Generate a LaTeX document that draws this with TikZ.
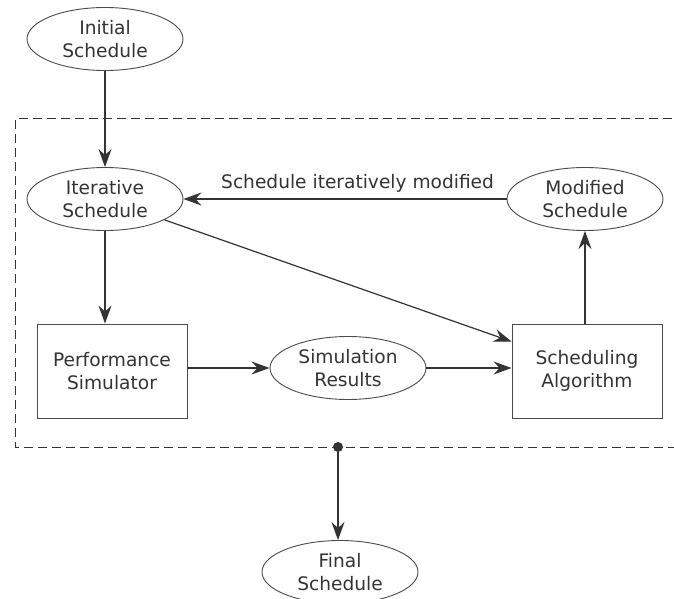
\documentclass[tikz,border=0pt]{standalone}
\usepackage{fontspec}
\setmainfont{DejaVu Sans}
\usetikzlibrary{shapes.geometric,arrows.meta}
\definecolor{ink}{HTML}{333333}
\definecolor{edge}{HTML}{4A4A4A}
\begin{document}
\begin{tikzpicture}[x=1pt,y=-1pt,
  every node/.style={font=\fontsize{18.6}{22.7}\selectfont, text=ink, align=center},
  oval/.style={ellipse, draw=edge, line width=0.9pt, minimum width=156pt, minimum height=63pt, inner sep=0pt},
  block/.style={rectangle, draw=edge, line width=0.9pt, minimum width=150pt, minimum height=94pt, inner sep=0pt},
  flow/.style={draw=ink, line width=1.2pt, -{Stealth[length=18pt,width=13pt,inset=6pt]}},
  boundary/.style={draw=ink, line width=1pt, dash pattern=on 9pt off 5pt}]
  \clip (0,0) rectangle (674,599);

  % nodes of the scheduling loop
  \node[oval]  (init) at (105,39)  {Initial\\Schedule};
  \node[oval]  (iter) at (105,199) {Iterative\\Schedule};
  \node[oval]  (mod)  at (585,199) {Modified\\Schedule};
  \node[block] (ps)   at (112,371) {Performance\\Simulator};
  \node[oval]  (sim)  at (348,368) {Simulation\\Results};
  \node[block] (sa)   at (587,371) {Scheduling\\Algorithm};
  \node[oval]  (fin)  at (340,572) {Final\\Schedule};

  % dashed frame around the iteration
  \draw[boundary] (700,119) -- (15,119) -- (15,447) -- (700,447);
  \node[circle, fill=ink, inner sep=0pt, minimum size=10pt] (tap) at (338,447) {};

  \node[anchor=base west, inner sep=0pt] (lbl) at (221,188) {Schedule iteratively modified};

  % connectors
  \draw[flow] (init) -- (iter);
  \draw[flow] (iter) -- (iter |- ps.north);
  \draw[flow] (iter) -- ([yshift=-18pt]sa.north west);
  \draw[flow] (ps.east |- sim) -- (sim);
  \draw[flow] (sim) -- (sa.west |- sim);
  \draw[flow] (sa.north -| mod) -- (mod);
  \draw[flow] (mod) -- (iter);
  \draw[flow] (tap) -- (tap |- fin.north);
\end{tikzpicture}
\end{document}
